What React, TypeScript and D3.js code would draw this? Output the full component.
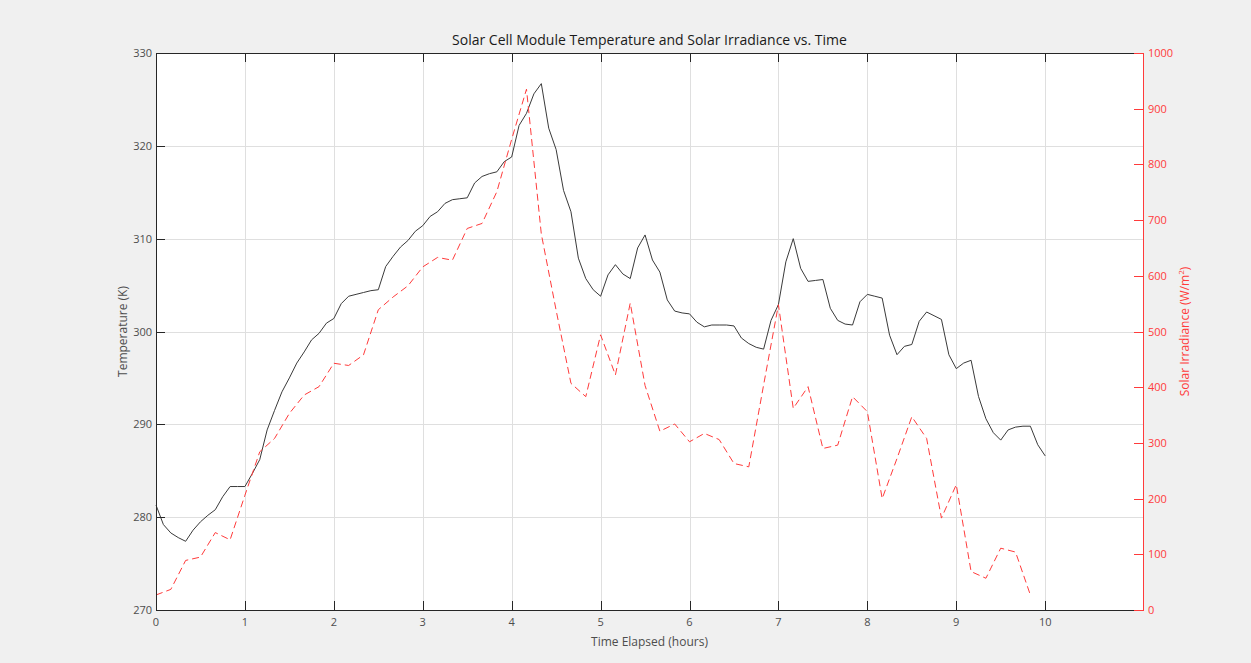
import React, { useEffect, useRef } from 'react';
import * as d3 from 'd3';

// module temperature (K), read every 5 minutes from 0 to 10 h
const temperature = [
    281.3, 279.2, 278.3, 277.8, 277.4, 278.6, 279.5, 280.2, 280.8, 282.2,
    283.3, 283.3, 283.3, 284.7, 286.2, 289.4, 291.5, 293.5, 295.0, 296.6,
    297.8, 299.1, 299.8, 300.9, 301.4, 303.0, 303.8, 304.0, 304.2, 304.4,
    304.5, 307.0, 308.1, 309.1, 309.8, 310.8, 311.4, 312.4, 312.9, 313.8,
    314.2, 314.3, 314.4, 316.0, 316.7, 317.0, 317.2, 318.3, 318.8, 322.2,
    323.5, 325.6, 326.7, 321.9, 319.6, 315.2, 312.9, 307.9, 305.7, 304.5,
    303.8, 306.1, 307.2, 306.2, 305.7, 309.0, 310.4, 307.7, 306.4, 303.4,
    302.2, 302.0, 301.9, 301.0, 300.5, 300.7, 300.7, 300.7, 300.6, 299.3,
    298.7, 298.3, 298.1, 301.2, 302.9, 307.5, 310.0, 306.8, 305.4, 305.5,
    305.6, 302.5, 301.2, 300.8, 300.7, 303.2, 304.0, 303.8, 303.6, 299.6,
    297.5, 298.4, 298.6, 301.1, 302.1, 301.7, 301.3, 297.5, 296.0, 296.6,
    296.9, 293.0, 290.6, 289.1, 288.3, 289.4, 289.7, 289.8, 289.8, 287.8, 286.6
];
const tempStep = 1 / 12; // hours

// solar irradiance (W/m^2), every 10 minutes
const irradiance = [
    27, 37, 89, 95, 139, 126, 206, 284, 308, 353,
    386, 401, 443, 439, 458, 539, 562, 582, 616, 633,
    628, 685, 694, 751, 845, 935, 675, 538, 407, 383,
    494, 422, 551, 403, 321, 334, 302, 317, 306, 263,
    257, 404, 548, 362, 401, 290, 296, 383, 356, 200,
    272, 347, 308, 165, 225, 69, 57, 111, 104, 27
];
const irrStep = 1 / 6; // hours

const xTicks = [0, 1, 2, 3, 4, 5, 6, 7, 8, 9, 10];
const leftTicks = [270, 280, 290, 300, 310, 320, 330];
const rightTicks = [0, 100, 200, 300, 400, 500, 600, 700, 800, 900, 1000];

const W = 1251;
const H = 663;
const FONT = "'Open Sans', 'Noto Sans', sans-serif";

const App = () => {
    const ref = useRef(null);

    useEffect(() => {
        const svg = d3.select(ref.current);
        svg.selectAll("*").remove();

        const left = 156, right = 1143, top = 53, bottom = 610;
        const tick = 9;
        const axisGray = '#262626';
        const labelGray = '#4d4d4d';
        const red = '#ff3b3b';

        const x = d3.scaleLinear().domain([0, 11.1]).range([left, right]);
        const yL = d3.scaleLinear().domain([270, 330]).range([bottom, top]);
        const yR = d3.scaleLinear().domain([0, 1000]).range([bottom, top]);

        svg.append("rect").attr("width", W).attr("height", H).attr("fill", "#f0f0f0");
        svg.append("rect")
            .attr("x", left).attr("y", top)
            .attr("width", right - left).attr("height", bottom - top)
            .attr("fill", "#fff");

        // grid
        const grid = svg.append("g").attr("stroke", "#dfdfdf").attr("stroke-width", 1);
        grid.selectAll(".gx").data(xTicks.slice(1)).enter().append("line")
            .attr("x1", d => Math.round(x(d)) + 0.5).attr("x2", d => Math.round(x(d)) + 0.5)
            .attr("y1", top).attr("y2", bottom);
        grid.selectAll(".gy").data(leftTicks.slice(1, -1)).enter().append("line")
            .attr("y1", d => Math.round(yL(d)) + 0.5).attr("y2", d => Math.round(yL(d)) + 0.5)
            .attr("x1", left).attr("x2", right);

        // lines
        const tempLine = d3.line()
            .x((d, i) => x(i * tempStep))
            .y(d => yL(d));
        svg.append("path")
            .datum(temperature)
            .attr("fill", "none")
            .attr("stroke", "#3a3a3a")
            .attr("stroke-width", 1)
            .attr("d", tempLine);

        const irrLine = d3.line()
            .x((d, i) => x(i * irrStep))
            .y(d => yR(d));
        svg.append("path")
            .datum(irradiance)
            .attr("fill", "none")
            .attr("stroke", red)
            .attr("stroke-width", 1)
            .attr("stroke-dasharray", "7,4")
            .attr("d", irrLine);

        // box
        svg.append("line").attr("x1", left).attr("x2", right).attr("y1", top + 0.5).attr("y2", top + 0.5)
            .attr("stroke", axisGray);
        svg.append("line").attr("x1", left).attr("x2", right).attr("y1", bottom + 0.5).attr("y2", bottom + 0.5)
            .attr("stroke", axisGray);
        svg.append("line").attr("x1", left + 0.5).attr("x2", left + 0.5).attr("y1", top).attr("y2", bottom + 1)
            .attr("stroke", axisGray);
        svg.append("line").attr("x1", right + 0.5).attr("x2", right + 0.5).attr("y1", top).attr("y2", bottom + 1)
            .attr("stroke", red);

        // x ticks, bottom and top
        const xt = svg.append("g").attr("stroke", axisGray);
        xTicks.forEach(t => {
            const px = Math.round(x(t)) + 0.5;
            xt.append("line").attr("x1", px).attr("x2", px).attr("y1", bottom).attr("y2", bottom - tick);
            xt.append("line").attr("x1", px).attr("x2", px).attr("y1", top).attr("y2", top + tick);
        });
        svg.append("g").selectAll("text").data(xTicks).enter().append("text")
            .attr("x", d => x(d)).attr("y", bottom + 16)
            .attr("text-anchor", "middle")
            .attr("font-family", FONT).attr("font-size", 11)
            .attr("fill", labelGray)
            .text(d => d);

        // left ticks
        const lt = svg.append("g").attr("stroke", axisGray);
        leftTicks.forEach(t => {
            const py = Math.round(yL(t)) + 0.5;
            lt.append("line").attr("x1", left).attr("x2", left + tick).attr("y1", py).attr("y2", py);
        });
        svg.append("g").selectAll("text").data(leftTicks).enter().append("text")
            .attr("x", left - 4).attr("y", d => yL(d) + 4)
            .attr("text-anchor", "end")
            .attr("font-family", FONT).attr("font-size", 11)
            .attr("fill", labelGray)
            .text(d => d);

        // right ticks
        const rt = svg.append("g").attr("stroke", red);
        rightTicks.forEach(t => {
            const py = Math.round(yR(t)) + 0.5;
            rt.append("line").attr("x1", right).attr("x2", right - tick).attr("y1", py).attr("y2", py);
        });
        svg.append("g").selectAll("text").data(rightTicks).enter().append("text")
            .attr("x", right + 5).attr("y", d => yR(d) + 4)
            .attr("text-anchor", "start")
            .attr("font-family", FONT).attr("font-size", 11)
            .attr("fill", red)
            .text(d => d);

        // titles
        svg.append("text")
            .attr("x", (left + right) / 2).attr("y", 45)
            .attr("text-anchor", "middle")
            .attr("font-family", FONT).attr("font-size", 14)
            .attr("fill", "#1a1a1a")
            .text("Solar Cell Module Temperature and Solar Irradiance vs. Time");

        svg.append("text")
            .attr("x", (left + right) / 2).attr("y", 646)
            .attr("text-anchor", "middle")
            .attr("font-family", FONT).attr("font-size", 12)
            .attr("fill", labelGray)
            .text("Time Elapsed (hours)");

        svg.append("text")
            .attr("transform", `translate(127,${(top + bottom) / 2}) rotate(-90)`)
            .attr("text-anchor", "middle")
            .attr("font-family", FONT).attr("font-size", 12)
            .attr("fill", labelGray)
            .text("Temperature (K)");

        const rl = svg.append("text")
            .attr("transform", `translate(1189,${(top + bottom) / 2}) rotate(-90)`)
            .attr("text-anchor", "middle")
            .attr("font-family", FONT).attr("font-size", 12)
            .attr("fill", red);
        rl.append("tspan").text("Solar Irradiance (W/m");
        rl.append("tspan").attr("dy", -5).attr("font-size", 8).text("2");
        rl.append("tspan").attr("dy", 5).text(")");
    }, []);

    return (
        <svg ref={ref} width={W} height={H}
             style={{ position: 'absolute', left: 0, top: 0, display: 'block' }}></svg>
    );
};

export default App;
